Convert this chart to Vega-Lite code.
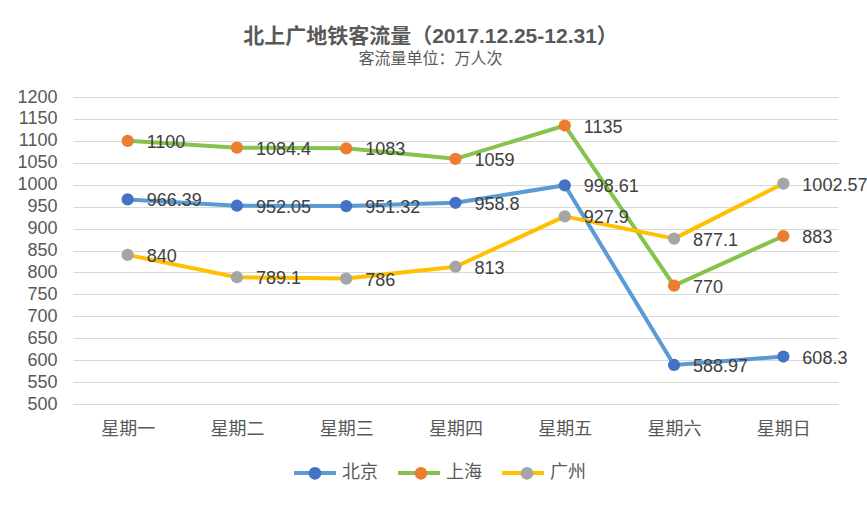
{
  "$schema": "https://vega.github.io/schema/vega-lite/v6.json",
  "width": 765,
  "height": 307,
  "autosize": {"type": "none"},
  "padding": {"left": 73, "top": 97, "right": 29, "bottom": 103},
  "background": "white",
  "config": {
    "view": {"stroke": null},
    "font": "Liberation Sans, Noto Sans CJK SC",
    "text": {"font": "Liberation Sans, Noto Sans CJK SC"}
  },
  "title": {
    "text": "北上广地铁客流量（2017.12.25-12.31）",
    "subtitle": "客流量单位：万人次",
    "font": "Liberation Sans, Noto Sans CJK SC",
    "subtitleFont": "Liberation Sans, Noto Sans CJK SC",
    "fontSize": 21,
    "fontWeight": "bold",
    "color": "#595959",
    "subtitleFontSize": 16,
    "subtitleColor": "#595959",
    "subtitlePadding": 4,
    "offset": 21,
    "dx": -25,
    "anchor": "middle"
  },
  "data": {
    "values": [
      {"day": "星期一", "city": "北京", "value": 966.39},
      {"day": "星期二", "city": "北京", "value": 952.05},
      {"day": "星期三", "city": "北京", "value": 951.32},
      {"day": "星期四", "city": "北京", "value": 958.8},
      {"day": "星期五", "city": "北京", "value": 998.61},
      {"day": "星期六", "city": "北京", "value": 588.97},
      {"day": "星期日", "city": "北京", "value": 608.3},
      {"day": "星期一", "city": "上海", "value": 1100},
      {"day": "星期二", "city": "上海", "value": 1084.4},
      {"day": "星期三", "city": "上海", "value": 1083},
      {"day": "星期四", "city": "上海", "value": 1059},
      {"day": "星期五", "city": "上海", "value": 1135},
      {"day": "星期六", "city": "上海", "value": 770},
      {"day": "星期日", "city": "上海", "value": 883},
      {"day": "星期一", "city": "广州", "value": 840},
      {"day": "星期二", "city": "广州", "value": 789.1},
      {"day": "星期三", "city": "广州", "value": 786},
      {"day": "星期四", "city": "广州", "value": 813},
      {"day": "星期五", "city": "广州", "value": 927.9},
      {"day": "星期六", "city": "广州", "value": 877.1},
      {"day": "星期日", "city": "广州", "value": 1002.57}
    ]
  },
  "encoding": {
    "x": {
      "field": "day",
      "type": "ordinal",
      "sort": ["星期一", "星期二", "星期三", "星期四", "星期五", "星期六", "星期日"],
      "scale": {"type": "point", "padding": 0.5},
      "axis": {
        "title": null,
        "domain": false,
        "ticks": false,
        "grid": false,
        "labelAngle": 0,
        "labelFontSize": 18,
        "labelColor": "#595959",
        "labelPadding": 16,
        "labelFont": "Liberation Sans, Noto Sans CJK SC"
      }
    },
    "y": {
      "field": "value",
      "type": "quantitative",
      "scale": {"domain": [500, 1200], "nice": false, "zero": false},
      "axis": {
        "title": null,
        "domain": false,
        "ticks": false,
        "grid": true,
        "gridColor": "#D9D9D9",
        "gridWidth": 1,
        "format": "d",
        "values": [500, 550, 600, 650, 700, 750, 800, 850, 900, 950, 1000, 1050, 1100, 1150, 1200],
        "labelFontSize": 18,
        "labelColor": "#595959",
        "labelPadding": 16,
        "labelFont": "Liberation Sans, Noto Sans CJK SC"
      }
    }
  },
  "layer": [
    {
      "mark": {"type": "line", "strokeWidth": 4, "strokeCap": "round", "strokeJoin": "round"},
      "encoding": {
        "stroke": {
          "field": "city",
          "type": "nominal",
          "scale": {"domain": ["北京", "上海", "广州"], "range": ["#5B9BD5", "#86C34C", "#FFC000"]},
          "legend": {
            "orient": "none",
            "legendX": 219,
            "legendY": 353,
            "direction": "horizontal",
            "title": null,
            "symbolType": "stroke",
            "symbolSize": 1764,
            "symbolStrokeWidth": 4,
            "labelFontSize": 18,
            "labelColor": "#595959",
            "labelOffset": 4,
            "columnPadding": 12,
            "padding": 0,
            "labelFont": "Liberation Sans, Noto Sans CJK SC"
          }
        }
      }
    },
    {
      "mark": {"type": "point", "filled": true, "size": 150, "opacity": 1},
      "encoding": {
        "fill": {
          "field": "city",
          "type": "nominal",
          "sort": ["北京", "上海", "广州"],
          "scale": {"range": ["#4472C4", "#ED7D31", "#A5A5A5"]},
          "legend": {
            "orient": "none",
            "legendX": 219,
            "legendY": 353,
            "direction": "horizontal",
            "title": null,
            "symbolType": "M-1,0L1,0M-0.3,0A0.3,0.3,0,1,1,0.3,0A0.3,0.3,0,1,1,-0.3,0Z",
            "symbolSize": 1764,
            "symbolStrokeWidth": 4,
            "symbolStrokeColor": "transparent",
            "symbolOpacity": 1,
            "labelFontSize": 18,
            "labelExpr": "''",
            "labelOffset": 4,
            "columnPadding": 48,
            "padding": 0,
            "labelFont": "Liberation Sans, Noto Sans CJK SC"
          }
        }
      }
    },
    {
      "mark": {"type": "text", "align": "left", "baseline": "middle", "dx": 19, "dy": 2, "fontSize": 18, "color": "#404040"},
      "encoding": {
        "text": {"field": "value", "type": "quantitative"},
        "detail": {"field": "city", "type": "nominal"}
      }
    }
  ]
}
